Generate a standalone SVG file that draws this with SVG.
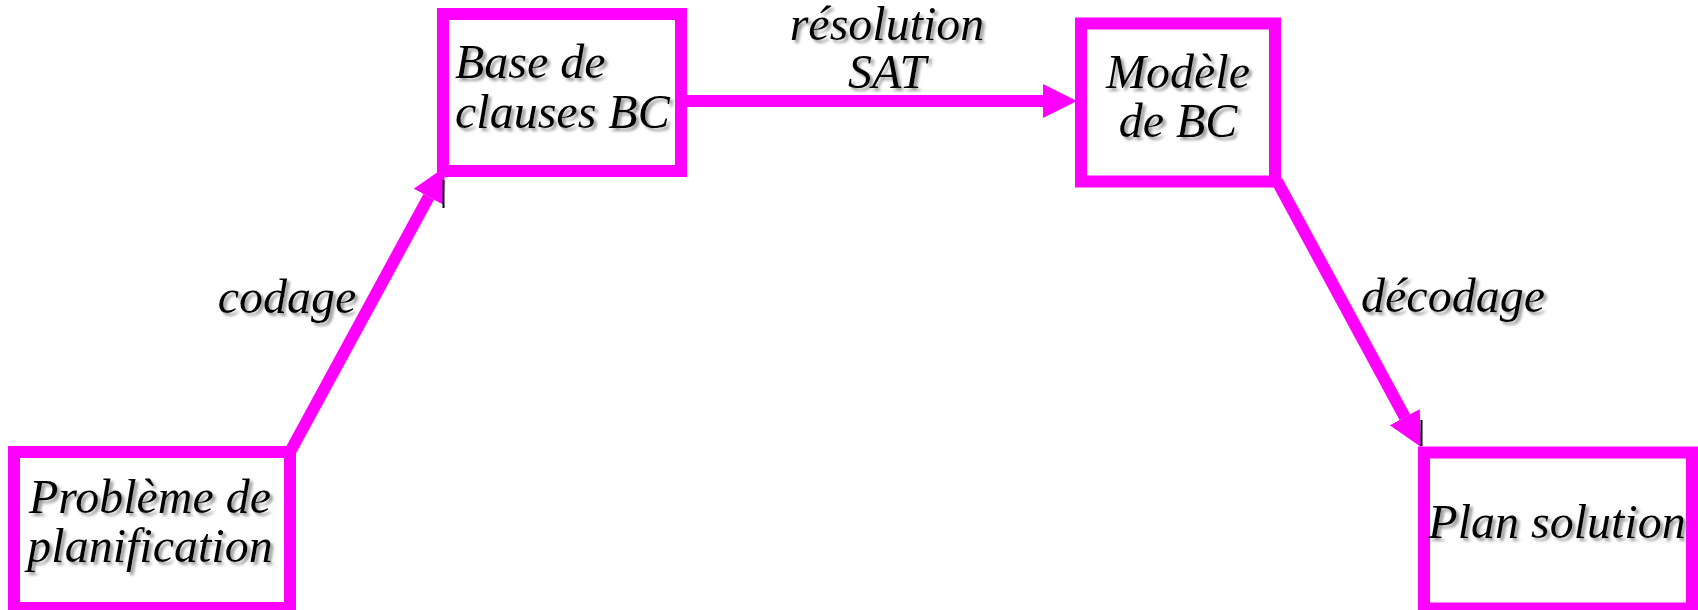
<svg xmlns="http://www.w3.org/2000/svg" width="1698" height="610" viewBox="0 0 1698 610">
  <style>
    .box { fill: #ffffff; stroke: #ff00ff; stroke-width: 12; }
    .edge { fill: none; stroke: #ff00ff; stroke-width: 12; }
    .tick { stroke: #000000; stroke-width: 2; }
    text { font-family: "Liberation Serif", "Times New Roman", serif; font-style: italic; font-size: 48px; fill: #000000; filter: url(#shadow); }
    .c { text-anchor: middle; }
  </style>
  <defs>
    <filter id="shadow" x="-10%" y="-30%" width="120%" height="160%">
      <feDropShadow dx="3" dy="3" stdDeviation="1.6" flood-color="#777777" flood-opacity="0.75"/>
    </filter>
    <marker id="head" markerUnits="userSpaceOnUse" markerWidth="40" markerHeight="40" viewBox="0 -20 40 40" refX="0" refY="0" orient="auto">
      <path d="M0,-17 L34,0 L0,17 z" fill="#ff00ff"/>
    </marker>
  </defs>

  <rect width="1698" height="610" fill="#ffffff"/>

  <!-- connectors -->
  <g id="connectors">
    <path class="edge" d="M290,452 L428.7,196.9" marker-end="url(#head)"/>
    <path class="edge" d="M681,101 L1043,101" marker-end="url(#head)"/>
    <path class="edge" d="M1277,181 L1404.8,417.1" marker-end="url(#head)"/>
    <line class="tick" x1="443.5" y1="180" x2="443.5" y2="208"/>
    <line class="tick" x1="1421.5" y1="420" x2="1421.5" y2="446"/>
    <text class="c" x="287" y="313">codage</text>
    <text class="c" x="887" y="40">résolution</text>
    <text class="c" x="887" y="88">SAT</text>
    <text class="c" x="1453" y="312">décodage</text>
  </g>

  <!-- nodes -->
  <g id="probleme">
    <rect class="box" x="14" y="452" width="276" height="156"/>
    <text class="c" x="150" y="513">Problème de</text>
    <text class="c" x="150" y="562">planification</text>
  </g>

  <g id="base-clauses">
    <rect class="box" x="443" y="14" width="238" height="157"/>
    <text x="455" y="78">Base de</text>
    <text x="455" y="128">clauses BC</text>
  </g>

  <g id="modele">
    <rect class="box" x="1081" y="23.5" width="194" height="158"/>
    <text class="c" x="1178" y="88">Modèle</text>
    <text class="c" x="1178" y="137">de BC</text>
  </g>

  <g id="plan-solution">
    <rect class="box" x="1424" y="452.5" width="268" height="156"/>
    <text class="c" x="1557" y="538">Plan solution</text>
  </g>
</svg>
